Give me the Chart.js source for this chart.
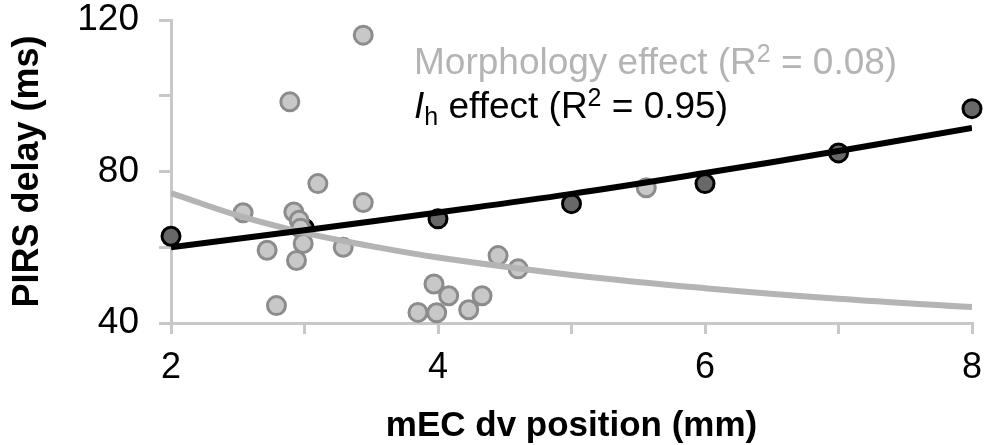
<!DOCTYPE html>
<html lang="en">
<head>
<meta charset="UTF-8">
<title>PIRS delay</title>
<script src="https://cdn.jsdelivr.net/npm/chart.js"></script>
<style>
  body { margin: 0; background: #fff; }
  canvas { display: block; }
</style>
</head>
<body>
<canvas id="myChart" width="989" height="445"></canvas>
<script>
// morphology cells (light grey)
const morphX = [3.44, 2.89, 3.10, 3.44, 2.54, 2.92, 2.96, 2.97, 2.99, 2.72, 2.94, 3.29, 2.79,
                3.97, 4.08, 3.85, 3.99, 4.23, 4.33, 4.45, 4.60, 5.56];
const morphY = [116.0, 98.4, 76.8, 71.8, 69.1, 69.3, 67.1, 65.0, 61.0, 59.2, 56.5, 60.0, 44.6,
                50.3, 47.2, 42.8, 42.7, 43.5, 47.2, 57.8, 54.3, 75.7];
// Ih model (dark grey)
const ihX = [2, 3, 4, 5, 6, 7, 8];
const ihY = [62.9, 65.0, 67.5, 71.5, 76.8, 84.9, 96.6];
// trend lines
const morphFitX = [2, 2.5, 3, 3.5, 4, 5, 6, 7, 8];
const morphFitY = [74.3, 68.4, 63.8, 60.3, 57.3, 52.7, 49.2, 46.4, 44.2];
const ihFitX = [2, 3, 4, 5, 6, 7, 8];
const ihFitY = [60.0, 64.5, 69.2, 74.1, 79.6, 85.4, 91.5];

const xLabels = [2, 4, 6, 8];
const yLabels = [40, 80, 120];

function toPts(xs, ys) {
    return xs.map(function(x, i) { return {x: x, y: ys[i]}; });
}

const axisGrey = '#c8c8c8';
const FONT = '"Liberation Sans", Arial, sans-serif';

// draws the two R² annotations
const notes = {
    id: 'notes',
    afterDraw: function(chart) {
        const ctx = chart.ctx;
        ctx.save();
        ctx.textBaseline = 'alphabetic';
        ctx.textAlign = 'left';
        function run(parts, x, y, color) {
            ctx.fillStyle = color;
            parts.forEach(function(p) {
                ctx.font = p.f;
                ctx.fillText(p.t, x, y + (p.dy || 0));
                x += ctx.measureText(p.t).width;
            });
        }
        const big = '37px ' + FONT;
        const small = '25px ' + FONT;
        run([
            {t: 'Morphology effect (R', f: big},
            {t: '2', f: small, dy: -12},
            {t: ' = 0.08)', f: big}
        ], 414, 74, '#b4b4b4');
        run([
            {t: 'I', f: 'italic 37px ' + FONT},
            {t: 'h', f: small, dy: 7},
            {t: ' effect (R', f: big},
            {t: '2', f: small, dy: -12},
            {t: ' = 0.95)', f: big}
        ], 414, 118, '#000');
        ctx.restore();
    }
};

const ctx = document.getElementById('myChart').getContext('2d');
const myChart = new Chart(ctx, {
    type: 'scatter',
    data: {
        datasets: [
            {
                label: 'Ih fit',
                type: 'line',
                data: toPts(ihFitX, ihFitY),
                borderColor: '#000',
                borderWidth: 6,
                pointRadius: 0,
                tension: 0.4,
                fill: false,
                order: 0
            },
            {
                label: 'Morphology fit',
                type: 'line',
                data: toPts(morphFitX, morphFitY),
                borderColor: '#b4b4b4',
                borderWidth: 6,
                pointRadius: 0,
                tension: 0.4,
                fill: false,
                order: 1
            },
            {
                label: 'Morphology',
                data: toPts(morphX, morphY),
                backgroundColor: '#c8c8c8',
                borderColor: '#8c8c8c',
                borderWidth: 3,
                pointRadius: 9,
                clip: false,
                order: 2
            },
            {
                label: 'Ih',
                data: toPts(ihX, ihY),
                backgroundColor: '#686868',
                borderColor: '#000',
                borderWidth: 3,
                pointRadius: 9,
                clip: false,
                order: 3
            }
        ]
    },
    options: {
        responsive: false,
        animation: false,
        layout: { padding: { top: 20, right: 17, left: 0, bottom: 0 } },
        plugins: {
            legend: { display: false },
            tooltip: { enabled: false }
        },
        scales: {
            x: {
                type: 'linear',
                min: 2,
                max: 8,
                afterFit: function(s) {
                    s.height = 122;
                    s.paddingLeft = 0;
                    s.paddingRight = 0;
                },
                ticks: {
                    stepSize: 1,
                    padding: 12,
                    color: '#000',
                    font: { family: FONT, size: 36 },
                    callback: function(v) { return xLabels.indexOf(v) >= 0 ? String(v) : ''; }
                },
                grid: { drawOnChartArea: false, drawTicks: true, tickLength: 11, color: axisGrey, lineWidth: 3 },
                border: { color: axisGrey, width: 3 },
                title: {
                    display: true,
                    text: 'mEC dv position (mm)',
                    color: '#000',
                    font: { family: FONT, size: 35, weight: 'bold', lineHeight: 1.2 },
                    padding: { top: 0, bottom: -2 }
                }
            },
            y: {
                min: 40,
                max: 120,
                afterFit: function(s) {
                    s.width = 171;
                    s.paddingTop = 0;
                    s.paddingBottom = 0;
                },
                ticks: {
                    stepSize: 20,
                    padding: 20,
                    color: '#000',
                    font: { family: FONT, size: 37 },
                    callback: function(v) { return yLabels.indexOf(v) >= 0 ? String(v) : ''; }
                },
                grid: { drawOnChartArea: false, drawTicks: true, tickLength: 12, color: axisGrey, lineWidth: 3 },
                border: { color: axisGrey, width: 3 },
                title: {
                    display: true,
                    text: 'PIRS delay (ms)',
                    color: '#000',
                    font: { family: FONT, size: 36, weight: 'bold', lineHeight: 1.2 },
                    padding: { top: 6, bottom: 0 }
                }
            }
        }
    },
    plugins: [notes]
});
</script>
</body>
</html>
